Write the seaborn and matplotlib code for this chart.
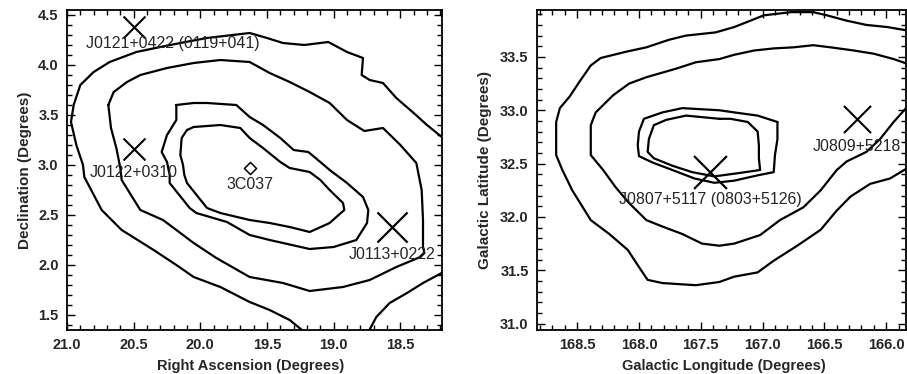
import seaborn as sns
import matplotlib.pyplot as plt
from matplotlib.ticker import MultipleLocator
import pandas as pd

# -----------------------
# Data
# -----------------------
# Left map: 3C037 field, Right Ascension / Declination (degrees)
ra_lev1a = [18.15, 18.18, 18.30, 18.40, 18.53, 18.63, 18.73, 18.79, 18.78, 18.90, 19.04,
            19.22, 19.38, 19.50, 19.63, 19.95, 20.15, 20.30, 20.48, 20.68, 20.80, 20.90,
            20.95, 20.97, 20.93, 20.88, 20.87, 20.74, 20.59, 20.35, 20.18, 20.05, 19.85,
            19.63, 19.48, 19.33, 19.22]
dec_lev1a = [3.29, 3.27, 3.40, 3.52, 3.67, 3.82, 3.85, 3.90, 4.07, 4.13, 4.23,
             4.20, 4.22, 4.27, 4.32, 4.27, 4.22, 4.18, 4.13, 4.03, 3.93, 3.80,
             3.60, 3.43, 3.20, 3.00, 2.88, 2.55, 2.35, 2.15, 2.00, 1.88, 1.78,
             1.63, 1.55, 1.45, 1.33]
ra_lev1b = [18.15, 18.19, 18.33, 18.45, 18.58, 18.68, 18.74]
dec_lev1b = [1.94, 1.92, 1.82, 1.72, 1.62, 1.48, 1.33]
ra_lev2 = [20.69, 20.65, 20.55, 20.45, 20.25, 20.05, 19.85, 19.63, 19.48, 19.33, 19.18,
           19.03, 18.90, 18.77, 18.63, 18.50, 18.38, 18.34, 18.33, 18.33, 18.32, 18.35,
           18.53, 18.73, 18.93, 19.18, 19.38, 19.63, 19.88, 20.05, 20.28, 20.45, 20.59,
           20.60, 20.63, 20.67, 20.69]
dec_lev2 = [3.60, 3.73, 3.83, 3.90, 3.97, 4.02, 4.05, 4.03, 3.92, 3.83, 3.73,
            3.62, 3.45, 3.34, 3.37, 3.20, 3.02, 2.75, 2.45, 2.18, 2.12, 2.08,
            1.98, 1.85, 1.78, 1.74, 1.82, 1.88, 2.07, 2.22, 2.45, 2.55, 2.85,
            2.97, 3.17, 3.37, 3.60]
ra_lev3 = [20.18, 20.05, 19.95, 19.73, 19.63, 19.53, 19.40, 19.30, 19.19, 19.10, 19.03,
           18.90, 18.78, 18.74, 18.75, 18.83, 19.00, 19.18, 19.48, 19.63, 19.80, 20.03,
           20.08, 20.23, 20.23, 20.25, 20.29, 20.25, 20.18, 20.18]
dec_lev3 = [3.60, 3.62, 3.62, 3.60, 3.48, 3.40, 3.27, 3.15, 3.13, 3.03, 2.95,
            2.82, 2.68, 2.55, 2.42, 2.25, 2.18, 2.16, 2.25, 2.30, 2.43, 2.52,
            2.57, 2.82, 2.90, 3.03, 3.13, 3.30, 3.45, 3.60]
ra_lev4 = [20.10, 20.05, 19.85, 19.70, 19.63, 19.53, 19.40, 19.33, 19.18, 19.10, 19.03,
           18.93, 18.92, 18.98, 19.03, 19.18, 19.33, 19.48, 19.63, 19.85, 19.95, 20.10,
           20.12, 20.13, 20.15, 20.14, 20.10]
dec_lev4 = [3.35, 3.38, 3.40, 3.37, 3.27, 3.17, 3.03, 2.97, 2.93, 2.85, 2.75,
            2.62, 2.55, 2.48, 2.42, 2.33, 2.38, 2.42, 2.45, 2.52, 2.57, 2.82,
            2.90, 3.00, 3.10, 3.27, 3.35]

eq_names = ["J0121+0422 (0119+041)", "J0122+0310", "J0113+0222"]
eq_ra = [20.50, 20.50, 18.565]
eq_dec = [4.38, 3.16, 2.385]
target_name = "3C037"
target_ra = 19.63
target_dec = 2.97

# Right map: Galactic Longitude / Latitude (degrees)
lon_lev1 = [165.80, 165.84, 165.99, 166.16, 166.32, 166.48, 166.59, 166.77, 166.99, 167.12,
            167.23, 167.38, 167.62, 167.76, 167.94, 168.10, 168.31, 168.39, 168.48, 168.56,
            168.64, 168.67, 168.67, 168.67, 168.62, 168.54, 168.39, 168.24, 168.09, 168.00,
            167.93, 167.81, 167.54, 167.35, 167.23, 167.04, 166.91, 166.72, 166.53, 166.40,
            166.29, 166.13, 165.97, 165.84, 165.80]
lat_lev1 = [33.75, 33.75, 33.78, 33.80, 33.84, 33.89, 33.92, 33.92, 33.89, 33.83,
            33.78, 33.73, 33.70, 33.66, 33.59, 33.55, 33.49, 33.42, 33.27, 33.13,
            33.02, 32.89, 32.73, 32.58, 32.44, 32.25, 31.97, 31.84, 31.69, 31.53,
            31.41, 31.38, 31.36, 31.39, 31.44, 31.48, 31.59, 31.73, 31.88, 32.06,
            32.19, 32.31, 32.36, 32.45, 32.47]
lon_lev2 = [165.80, 165.84, 165.94, 166.10, 166.26, 166.45, 166.59, 166.75, 166.91, 167.07,
            167.23, 167.35, 167.54, 167.70, 167.94, 168.08, 168.21, 168.35, 168.39, 168.39,
            168.39, 168.29, 168.19, 168.08, 167.94, 167.81, 167.65, 167.49, 167.35, 167.23,
            167.02, 166.86, 166.67, 166.53, 166.40, 166.32, 166.16, 166.05, 165.94, 165.84,
            165.80]
lat_lev2 = [33.44, 33.44, 33.48, 33.53, 33.56, 33.59, 33.61, 33.59, 33.58, 33.56,
            33.52, 33.48, 33.45, 33.39, 33.31, 33.25, 33.14, 32.98, 32.86, 32.73,
            32.58, 32.44, 32.28, 32.13, 31.97, 31.91, 31.84, 31.75, 31.73, 31.75,
            31.83, 31.97, 32.09, 32.25, 32.44, 32.52, 32.61, 32.73, 32.89, 33.02,
            33.06]
lon_lev3 = [166.88, 166.88, 166.90, 166.91, 167.04, 167.23, 167.39, 167.55, 167.73, 167.89,
            168.00, 168.01, 168.00, 167.96, 167.81, 167.65, 167.35, 167.23, 167.04, 166.88]
lat_lev3 = [32.89, 32.73, 32.58, 32.42, 32.39, 32.34, 32.32, 32.36, 32.44, 32.51,
            32.57, 32.67, 32.80, 32.92, 32.98, 33.02, 33.00, 32.98, 32.95, 32.89]
lon_lev4 = [167.35, 167.62, 167.78, 167.88, 167.92, 167.93, 167.88, 167.73, 167.57, 167.39,
            167.20, 167.02, 167.03, 167.03, 167.04, 167.12, 167.26, 167.35]
lat_lev4 = [32.92, 32.95, 32.91, 32.86, 32.73, 32.61, 32.55, 32.48, 32.42, 32.38,
            32.41, 32.44, 32.55, 32.67, 32.80, 32.89, 32.92, 32.92]

gal_names = ["J0807+5117 (0803+5126)", "J0809+5218"]
gal_lon = [167.425, 166.24]
gal_lat = [32.42, 32.92]


def contour_frame(pieces):
    rows = []
    for k, (xs, ys) in enumerate(pieces):
        for x, y in zip(xs, ys):
            rows.append([k, x, y])
    return pd.DataFrame(rows, columns=["piece", "x", "y"])


left_df = contour_frame([(ra_lev1a, dec_lev1a), (ra_lev1b, dec_lev1b),
                         (ra_lev2, dec_lev2), (ra_lev3, dec_lev3), (ra_lev4, dec_lev4)])
right_df = contour_frame([(lon_lev1, lat_lev1), (lon_lev2, lat_lev2),
                          (lon_lev3, lat_lev3), (lon_lev4, lat_lev4)])

# -----------------------
# Figure
# -----------------------
sns.set_style("ticks")
plt.rcParams["font.family"] = ["Liberation Sans", "DejaVu Sans"]

fig = plt.figure(figsize=(9.07, 3.74), dpi=100)
ax1 = fig.add_axes([67 / 907, 44 / 374, 375 / 907, 320 / 374])
ax2 = fig.add_axes([537 / 907, 44 / 374, 369 / 907, 320 / 374])

for ax, df in [(ax1, left_df), (ax2, right_df)]:
    sns.lineplot(data=df, x="x", y="y", units="piece", estimator=None, sort=False,
                 color="black", linewidth=1.6, ax=ax, legend=False)

# source crosses
sns.scatterplot(x=eq_ra[:2], y=eq_dec[:2], marker="x", s=250, color="black",
                linewidth=1.5, ax=ax1, legend=False)
sns.scatterplot(x=eq_ra[2:], y=eq_dec[2:], marker="x", s=470, color="black",
                linewidth=1.6, ax=ax1, legend=False)
sns.scatterplot(x=[target_ra], y=[target_dec], marker="D", s=38, facecolor="white",
                edgecolor="black", linewidth=1.1, ax=ax1, legend=False, zorder=5)
sns.scatterplot(x=gal_lon[:1], y=gal_lat[:1], marker="x", s=560, color="black",
                linewidth=1.6, ax=ax2, legend=False)
sns.scatterplot(x=gal_lon[1:], y=gal_lat[1:], marker="x", s=380, color="black",
                linewidth=1.5, ax=ax2, legend=False)

# labels under each source (offsets in points)
eq_offsets = [(28, -12), (0, -17), (0, -20)]
for name, x, y, off in zip(eq_names, eq_ra, eq_dec, eq_offsets):
    ax1.annotate(name, (x, y), xytext=off, textcoords="offset points",
                 ha="center", va="center", fontsize=11.5)
ax1.annotate(target_name, (target_ra, target_dec), xytext=(0, -12),
             textcoords="offset points", ha="center", va="center", fontsize=11.5)
for name, x, y in zip(gal_names, gal_lon, gal_lat):
    ax2.annotate(name, (x, y), xytext=(0, -20), textcoords="offset points",
                 ha="center", va="center", fontsize=11.5)

ax1.set_xlim(21.0, 18.1875)
ax1.set_ylim(1.35, 4.55)
ax2.set_xlim(168.825, 165.84)
ax2.set_ylim(30.94, 33.94)

ax1.set_xlabel("Right Ascension (Degrees)", fontsize=10.5, fontweight="bold")
ax1.set_ylabel("Declination (Degrees)", fontsize=11, fontweight="bold")
ax2.set_xlabel("Galactic Longitude (Degrees)", fontsize=10.5, fontweight="bold")
ax2.set_ylabel("Galactic Latitude (Degrees)", fontsize=11, fontweight="bold")

ax1.xaxis.set_label_coords(0.49, -0.092)
ax2.xaxis.set_label_coords(0.507, -0.092)
ax1.yaxis.set_label_coords(-0.093, 0.5)
ax2.yaxis.set_label_coords(-0.122, 0.5)

for ax in (ax1, ax2):
    ax.xaxis.set_major_locator(MultipleLocator(0.5))
    ax.xaxis.set_minor_locator(MultipleLocator(0.1))
    ax.yaxis.set_major_locator(MultipleLocator(0.5))
    ax.yaxis.set_minor_locator(MultipleLocator(0.1))
    ax.xaxis.set_major_formatter(plt.FormatStrFormatter("%.1f"))
    ax.yaxis.set_major_formatter(plt.FormatStrFormatter("%.1f"))
    ax.tick_params(which="both", direction="in", top=True, right=True, width=1.0,
                   color="black")
    ax.tick_params(which="major", length=6, labelsize=10.5, pad=6)
    ax.tick_params(which="minor", length=3.5)
    for lab in ax.get_xticklabels() + ax.get_yticklabels():
        lab.set_fontweight("bold")
    for sp in ax.spines.values():
        sp.set_linewidth(1.3)
        sp.set_color("black")

plt.savefig("out.png", dpi=100)
plt.close()
